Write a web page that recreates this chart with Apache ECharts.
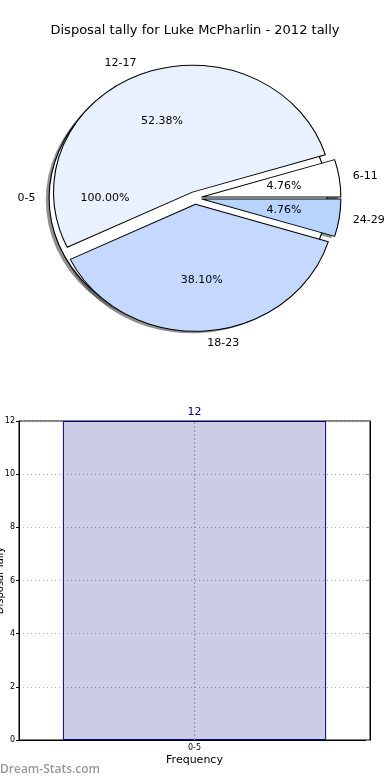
<!DOCTYPE html>
<html><head><meta charset="utf-8">
<script src="https://cdn.jsdelivr.net/npm/echarts@6/dist/echarts.min.js"></script>
<style>html,body{margin:0;padding:0;background:#fff}#c{width:390px;height:780px}</style>
</head><body><div id="c"></div>
<script>
const titleText = 'Disposal tally for Luke McPharlin - 2012 tally';
const pieCategories = ['6-11', '12-17', '18-23', '24-29'];
const pieValues = [1, 11, 8, 1];
const baseCategory = '0-5';
const baseValue = 1;
const barCategories = ['0-5'];
const barValues = [12];
const yAxisName = 'Disposal Tally';
const xAxisName = 'Frequency';
const watermark = 'Dream-Stats.com';

const pieColors = ['#ffffff', '#eaf1fe', '#c5d9ff', '#b6d4ff'];
const FONT = 'DejaVu Sans';
const CX = 195, CY = 198, R = 127, OFF = 6.3, SX = 139 / 127;
const SHADOW = 'rgba(70,70,70,0.6)';
const pct = p => p.percent.toFixed(2) + '%';

const common = {
  type: 'pie', center: [CX, CY], radius: [0, R], startAngle: 0, clockwise: false,
  selectedMode: 'multiple', selectedOffset: OFF, avoidLabelOverlap: false,
  silent: true, animation: false, emphasis: { disabled: true },
  labelLine: { show: false }, label: { show: false }
};
const sliceData = (style) => pieCategories.map((n, i) => ({ name: n, value: pieValues[i], selected: true, itemStyle: style(i) }));
const baseData = (style) => [{ name: baseCategory, value: baseValue, selected: true, itemStyle: style }];
const noFill = { color: 'rgba(0,0,0,0)', borderWidth: 0 };
const nameLabel = { show: true, position: 'outside', formatter: '{b}', fontFamily: FONT, fontSize: 11, color: '#000' };
const pctLabel = { show: true, position: 'inside', formatter: pct, fontFamily: FONT, fontSize: 11, color: '#000' };
const nameLine = { show: false, length: 12, length2: 0 };

const series = [
  Object.assign({}, common, { center: [CX - 3, CY + 2], z: 1, data: baseData({ color: SHADOW, borderWidth: 0 }) }),
  Object.assign({}, common, { center: [CX - 3, CY + 2], z: 1, data: sliceData(() => ({ color: SHADOW, borderWidth: 0 })) }),
  Object.assign({}, common, { z: 2, data: baseData({ color: '#ffffff', borderColor: '#000', borderWidth: 1 }) }),
  Object.assign({}, common, { z: 3, data: sliceData(i => ({ color: pieColors[i], borderColor: '#000', borderWidth: 1 })) }),
  Object.assign({}, common, { z: 4, radius: [0, 146], data: baseData(noFill), label: pctLabel }),
  Object.assign({}, common, { z: 4, radius: [0, 146], data: sliceData(() => noFill), label: pctLabel }),
  Object.assign({}, common, { z: 4, data: baseData(noFill), label: nameLabel, labelLine: nameLine }),
  Object.assign({}, common, { z: 4, data: sliceData(() => noFill), label: nameLabel, labelLine: nameLine }),
  {
    type: 'bar', xAxisIndex: 0, yAxisIndex: 0, data: barValues, barWidth: '75%', z: 2,
    animation: false, silent: true,
    itemStyle: { color: 'rgba(0,0,128,0.2)', borderColor: '#000080', borderWidth: 1 },
    label: { show: true, position: 'top', distance: 3, color: '#000080', fontFamily: FONT, fontSize: 11 },
    markLine: { silent: true, symbol: 'none', animation: false, label: { show: false },
      lineStyle: { type: [2, 2], color: '#999', width: 1.2 }, data: [{ xAxis: barCategories[0] }] }
  }
];

const chart = echarts.init(document.getElementById('c'), null, { renderer: 'canvas' });
chart.setOption({
  backgroundColor: '#fff',
  animation: false,
  title: { text: titleText, left: 'center', top: 19, textStyle: { fontFamily: FONT, fontSize: 13, fontWeight: 'normal', color: '#000' } },
  grid: { left: 19, top: 421, width: 351, height: 319, outerBoundsMode: 'none', containLabel: false,
    show: true, borderColor: '#000', borderWidth: 1, backgroundColor: 'transparent' },
  xAxis: {
    type: 'category', data: barCategories,
    axisLine: { lineStyle: { color: '#000' } }, axisTick: { show: false },
    axisLabel: { fontFamily: FONT, fontSize: 8, color: '#000', margin: 4 },
    name: xAxisName, nameLocation: 'middle', nameGap: 15, nameMoveOverlap: false,
    nameTextStyle: { fontFamily: FONT, fontSize: 11, color: '#000' }
  },
  yAxis: [{
    type: 'value', min: 0, max: 12, interval: 2,
    axisLine: { show: true, lineStyle: { color: '#000' } },
    axisTick: { show: true, inside: false, length: 3, lineStyle: { color: '#000' } },
    axisLabel: { fontFamily: FONT, fontSize: 8, color: '#000', margin: 4 },
    splitLine: { show: true, lineStyle: { type: [1, 3], color: '#aaa', width: 1 } },
    name: yAxisName, nameLocation: 'middle', nameGap: 14, nameRotate: 90, nameMoveOverlap: false,
    nameTextStyle: { fontFamily: FONT, fontSize: 10, color: '#000' }
  }, {
    type: 'value', min: 0, max: 12, interval: 2, position: 'right',
    axisLine: { show: true, lineStyle: { color: '#000' } },
    axisTick: { show: true, inside: true, length: 4, lineStyle: { color: '#999' } },
    axisLabel: { show: false }, splitLine: { show: false }
  }],
  graphic: [{
    type: 'text', left: 0, top: 764,
    style: { text: watermark, fontFamily: 'Open Sans', fontSize: 12, fontWeight: 600, fill: '#999' }
  }],
  series: series
});

// the reference pie is slightly elliptical: stretch the pie groups horizontally,
// and move (without stretching) the wedge labels accordingly
(function stretchPie() {
  const zr = chart.getZr();
  const groups = new Set();
  const texts = new Set();
  zr.storage.getDisplayList(true).forEach(el => {
    if (el.type === 'sector' && el.parent) {
      groups.add(el.parent);
      const t = el.getTextContent && el.getTextContent();
      if (t) texts.add(t);
    }
  });
  groups.forEach(g => { g.originX = CX; g.originY = CY; g.scaleX = SX; g.markRedraw && g.markRedraw(); g.dirty && g.dirty(); });
  texts.forEach(t => {
    t.x = CX + (t.x - CX) * SX;
    const a = t.style && t.style.align;
    if (a === 'left') t.x -= 5; else if (a === 'right') t.x += 5;
    t.markRedraw();
  });
  zr.refreshImmediately();
})();
</script></body></html>
